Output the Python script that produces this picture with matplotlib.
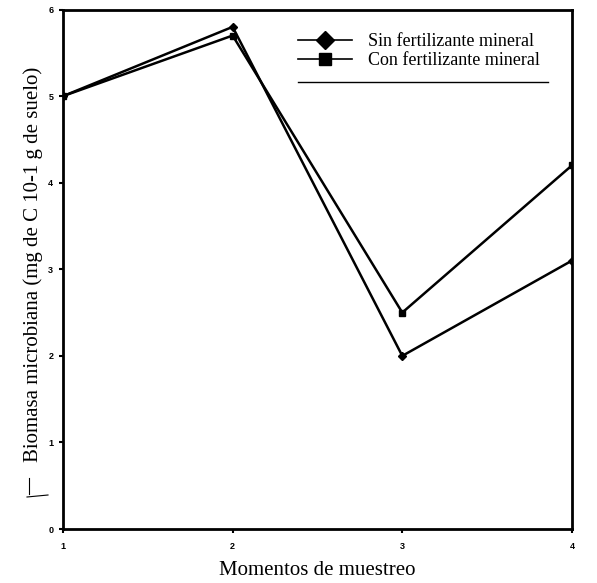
import numpy as np
import matplotlib.pyplot as plt
from matplotlib.lines import Line2D

# data
momentos = [1, 2, 3, 4]
sin_fert = [5.0, 5.8, 2.0, 3.1]
con_fert = [5.0, 5.7, 2.5, 4.2]
labels = ['Sin fertilizante mineral', 'Con fertilizante mineral']

plt.rcParams['font.family'] = ['Liberation Serif', 'DejaVu Serif']

fig = plt.figure(figsize=(5.97, 5.83), dpi=100)
ax = fig.add_axes([0.1055, 0.0926, 0.8525, 0.891])

l0, = ax.plot(momentos, sin_fert, color='black', lw=1.8, marker='D', markersize=4)
l1, = ax.plot(momentos, con_fert, color='black', lw=1.8, marker='s', markersize=4)

ax.set_xlim(1, 4)
ax.set_ylim(0, 6)
ax.set_xticks(momentos)
ax.set_yticks(range(0, 7))
for s in ax.spines.values():
    s.set_linewidth(2)
ax.tick_params(axis='both', direction='out', length=3, width=1.5)
ax.tick_params(axis='y', pad=4)
ax.tick_params(axis='x', pad=6)
for t in ax.get_xticklabels() + ax.get_yticklabels():
    t.set_family('Liberation Sans')
    t.set_fontweight('bold')
    t.set_fontsize(6.5)

ax.set_xlabel('Momentos de muestreo', fontsize=15)
ax.xaxis.set_label_coords(0.5, -0.062)
ax.set_ylabel('Biomasa microbiana (mg de C 10-1 g de suelo)', fontsize=15)
ax.yaxis.set_label_coords(-0.04, 0.51)

# legend without frame, with a rule underneath
leg_handles = [Line2D([], [], color='black', lw=1.2, marker='D', markersize=9),
               Line2D([], [], color='black', lw=1.2, marker='s', markersize=8)]
ax.legend(leg_handles, labels, loc='upper right', bbox_to_anchor=(0.969, 0.986),
          frameon=False, fontsize=13, handlelength=3.0, handletextpad=0.9,
          labelspacing=0.1)
ax.plot([0.461, 0.953], [0.86, 0.86], transform=ax.transAxes, color='black', lw=1)

# small stray marks of the scanned original, left of the y label
fig.add_artist(Line2D([27 / 597, 48 / 597], [1 - 497 / 583, 1 - 495 / 583], color='black', lw=0.8))
fig.add_artist(Line2D([29 / 597, 29 / 597], [1 - 478 / 583, 1 - 494 / 583], color='black', lw=0.8))

plt.savefig('out.png', dpi=100)
